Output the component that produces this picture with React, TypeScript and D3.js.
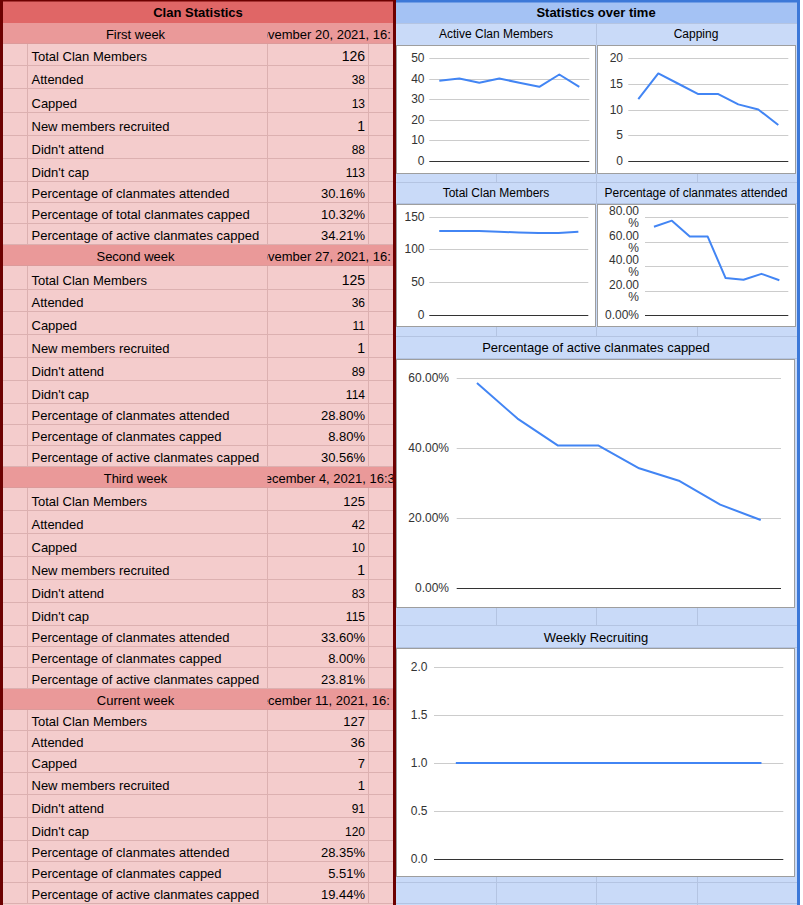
import React from 'react';
import * as d3 from 'd3';

// ---------- Table data ----------
const weekNames = ['First week', 'Second week', 'Third week', 'Current week'];
// Only the part of each date that the narrow cell shows (it is clipped on both sides)
const weekDates = [
  'November 20, 2021, 16:',
  'November 27, 2021, 16:',
  'December 4, 2021, 16:3',
  'December 11, 2021, 16:',
];
const statLabelsFirstWeek = [
  'Total Clan Members', 'Attended', 'Capped', 'New members recruited', "Didn't attend", "Didn't cap",
  'Percentage of clanmates attended', 'Percentage of total clanmates capped', 'Percentage of active clanmates capped',
];
const statLabels = [
  'Total Clan Members', 'Attended', 'Capped', 'New members recruited', "Didn't attend", "Didn't cap",
  'Percentage of clanmates attended', 'Percentage of clanmates capped', 'Percentage of active clanmates capped',
];
const totalMembersByWeek = [126, 125, 125, 127];
const attendedByWeek = [38, 36, 42, 36];
const cappedByWeek = [13, 11, 10, 7];
const recruitedByWeek = [1, 1, 1, 1];
const didntAttendByWeek = [88, 89, 83, 91];
const didntCapByWeek = [113, 114, 115, 120];
const pctAttendedByWeek = ['30.16%', '28.80%', '33.60%', '28.35%'];
const pctCappedByWeek = ['10.32%', '8.80%', '8.00%', '5.51%'];
const pctActiveCappedByWeek = ['34.21%', '30.56%', '23.81%', '19.44%'];

// ---------- Chart data (8 weeks) ----------
const chartWeeks = ['Oct 23', 'Oct 30', 'Nov 6', 'Nov 13', 'Nov 20', 'Nov 27', 'Dec 4', 'Dec 11'];
const activeMembersSeries = [39, 40, 38, 40, 38, 36, 42, 36];
const cappingSeries = [12, 17, 15, 13, 13, 11, 10, 7];
const totalMembersSeries = [128, 128, 128, 127, 126, 125, 125, 127];
const pctAttendedSeries = [72, 77, 64, 64, 30.16, 28.8, 33.6, 28.35];
const pctActiveCappedSeries = [58.6, 48.4, 40.7, 40.7, 34.21, 30.56, 23.81, 19.44];
const weeklyRecruitingSeries = [1, 1, 1, 1, 1, 1, 1, 1];

const activeTicks = [0, 10, 20, 30, 40, 50];
const cappingTicks = [0, 5, 10, 15, 20];
const totalTicks = [0, 50, 100, 150];
const pctAttendedTicks = [0, 20, 40, 60, 80];
const pctActiveTicks = [0, 20, 40, 60];
const recruitTicks = [0, 0.5, 1, 1.5, 2];

// ---------- Layout ----------
const FONT = 'Arial, "Liberation Sans", sans-serif';
const blockStarts = [23, 245, 467, 689];
const blockRowHeights = [
  [21, 22, 23, 24, 23, 23, 23, 21, 21, 21],
  [21, 24, 22, 23, 23, 23, 23, 21, 21, 21],
  [21, 23, 23, 23, 23, 23, 23, 21, 21, 21],
  [21, 21, 21, 21, 22, 23, 23, 21, 21, 21],
];
const dateStartX = [251.4, 251.4, 255.3, 251.4];
const valueFontSizes = [
  [14, 12, 12, 14, 12, 12, 13, 13, 13],
  [14, 12, 12, 14, 12, 12, 13, 13, 13],
  [13, 12, 12, 14, 12, 12, 13, 13, 13],
  [13, 13, 13, 13, 12, 12, 13, 13, 13],
];
const PINK_LINE = '#dcb0b0';
const BLUE_LINE = '#b4c4e2';

type ChartProps = {
  data: number[];
  x0: number; x1: number; yZero: number; yMax: number; max: number;
  ticks: number[]; fmt: (v: number) => string; labelX: number; twoLine?: boolean;
};

function LineChart({ data, x0, x1, yZero, yMax, max, ticks, fmt, labelX, twoLine }: ChartProps) {
  const x = d3.scaleBand<string>().domain(chartWeeks).range([x0, x1]);
  const y = d3.scaleLinear().domain([0, max]).range([yZero, yMax]);
  const line = d3.line<number>()
    .x((_, i) => (x(chartWeeks[i]) as number) + x.bandwidth() / 2)
    .y((d) => y(d));
  return (
    <g fontFamily={FONT} fontSize={12} fill="#333">
      {ticks.map((t) => (
        <line key={'g' + t} x1={x0} x2={x1} y1={Math.round(y(t)) + 0.5} y2={Math.round(y(t)) + 0.5}
          stroke={t === 0 ? '#333' : '#ccc'} strokeWidth={1} />
      ))}
      {ticks.map((t) => {
        const label = fmt(t);
        if (twoLine && t !== 0) {
          const num = label.replace('%', '');
          return (
            <text key={'l' + t} x={labelX} textAnchor="end" dominantBaseline="central">
              <tspan x={labelX} y={y(t) - 6}>{num}</tspan>
              <tspan x={labelX} y={y(t) + 6}>%</tspan>
            </text>
          );
        }
        return (
          <text key={'l' + t} x={labelX} y={y(t)} textAnchor="end" dominantBaseline="central">{label}</text>
        );
      })}
      <path d={line(data) as string} fill="none" stroke="#4285f4" strokeWidth={2} strokeLinejoin="round" />
    </g>
  );
}

function LeftTable() {
  const rows: React.ReactNode[] = [];
  weekNames.forEach((wk, b) => {
    const heights = blockRowHeights[b];
    let yy = blockStarts[b];
    const labels = b === 0 ? statLabelsFirstWeek : statLabels;
    const values: (number | string)[][] = [
      totalMembersByWeek, attendedByWeek, cappedByWeek, recruitedByWeek, didntAttendByWeek,
      didntCapByWeek, pctAttendedByWeek, pctCappedByWeek, pctActiveCappedByWeek,
    ];
    const wh = heights[0];
    rows.push(
      <g key={'w' + b}>
        <rect x={3} y={yy} width={390} height={wh} fill="#ea9999" />
        <line x1={3} x2={393} y1={yy + wh - 0.5} y2={yy + wh - 0.5} stroke="#dc9a9a" />
        <text x={135.5} y={yy + wh - 5.5} textAnchor="middle" fontSize={13} fill="#000">{wk}</text>
        <text x={dateStartX[b]} y={yy + wh - 5.5} fontSize={13} fill="#000" clipPath="url(#dateClip)">{weekDates[b]}</text>
      </g>
    );
    yy += wh;
    labels.forEach((lab, r) => {
      const h = heights[r + 1];
      const v = values[r][b];
      rows.push(
        <g key={'r' + b + '-' + r}>
          <rect x={3} y={yy} width={390} height={h} fill="#f4cccc" />
          <line x1={3} x2={393} y1={yy + h - 0.5} y2={yy + h - 0.5} stroke={PINK_LINE} />
          <line x1={27.5} x2={27.5} y1={yy} y2={yy + h} stroke={PINK_LINE} />
          <line x1={267.5} x2={267.5} y1={yy} y2={yy + h} stroke={PINK_LINE} />
          <line x1={368.5} x2={368.5} y1={yy} y2={yy + h} stroke={PINK_LINE} />
          <text x={31.5} y={yy + h - 5} fontSize={13} fill="#000">{lab}</text>
          <text x={365} y={yy + h - 5} fontSize={valueFontSizes[b][r]} textAnchor="end" fill="#000">{String(v)}</text>
        </g>
      );
      yy += h;
    });
  });
  return (
    <g fontFamily={FONT}>
      <rect x={0} y={0} width={396} height={905} fill="#f4cccc" />
      <rect x={0} y={0} width={396} height={23} fill="#e06666" />
      <text x={198} y={17} textAnchor="middle" fontSize={13} fontWeight="bold" fill="#000">Clan Statistics</text>
      {rows}
      <rect x={0} y={0} width={3} height={905} fill="#6d0000" />
      <rect x={393} y={0} width={3} height={905} fill="#6d0000" />
      <rect x={0} y={0} width={396} height={1.5} fill="#6d0000" />
    </g>
  );
}

function RightPanel() {
  const cols = [496.5, 596.5, 697.5];
  const strip = (y1: number, y2: number, key: string) => (
    <g key={key}>
      {cols.map((c) => <line key={c} x1={c} x2={c} y1={y1} y2={y2} stroke={BLUE_LINE} />)}
    </g>
  );
  const hline = (yv: number) => <line key={'h' + yv} x1={396} x2={797} y1={yv + 0.5} y2={yv + 0.5} stroke={BLUE_LINE} />;
  const box = (x: number, y: number, w: number, h: number, key: string) => (
    <rect key={key} x={x + 0.5} y={y + 0.5} width={w - 1} height={h - 1} fill="#fff" stroke="#9e9e9e" />
  );
  return (
    <g fontFamily={FONT}>
      <rect x={396} y={0} width={401} height={905} fill="#c9daf8" />
      <rect x={396} y={0} width={401} height={23} fill="#a4c2f4" />
      {[23, 182, 203, 336, 358, 625, 647, 882, 903].map(hline)}
      <line x1={596.5} x2={596.5} y1={23} y2={45} stroke={BLUE_LINE} />
      <line x1={596.5} x2={596.5} y1={182} y2={204} stroke={BLUE_LINE} />
      {strip(174, 182, 's1')}
      {strip(327, 336, 's2')}
      {strip(608, 626, 's3')}
      {strip(877, 905, 's4')}
      <text x={596} y={17} textAnchor="middle" fontSize={13} fontWeight="bold" fill="#000">Statistics over time</text>
      <text x={496} y={38} textAnchor="middle" fontSize={12} fill="#000">Active Clan Members</text>
      <text x={696} y={38} textAnchor="middle" fontSize={12} fill="#000">Capping</text>
      <text x={496} y={197} textAnchor="middle" fontSize={12} fill="#000">Total Clan Members</text>
      <text x={696} y={197} textAnchor="middle" fontSize={12} fill="#000">Percentage of clanmates attended</text>
      <text x={596} y={352} textAnchor="middle" fontSize={13} fill="#000">Percentage of active clanmates capped</text>
      <text x={596} y={642} textAnchor="middle" fontSize={13} fill="#000">Weekly Recruiting</text>

      {box(396, 45, 200, 129, 'b1')}
      {box(597, 45, 199, 129, 'b2')}
      {box(396, 204, 200, 123, 'b3')}
      {box(597, 204, 199, 123, 'b4')}
      {box(396, 359, 399, 249, 'b5')}
      {box(396, 648, 399, 229, 'b6')}

      <LineChart data={activeMembersSeries} x0={429.3} x1={589.3} yZero={161} yMax={58} max={50}
        ticks={activeTicks} fmt={(v) => String(v)} labelX={424.5} />
      <LineChart data={cappingSeries} x0={628.3} x1={788.3} yZero={161} yMax={58} max={20}
        ticks={cappingTicks} fmt={(v) => String(v)} labelX={623} />
      <LineChart data={totalMembersSeries} x0={429.3} x1={588.3} yZero={315} yMax={216.7} max={150}
        ticks={totalTicks} fmt={(v) => String(v)} labelX={424.5} />
      <LineChart data={pctAttendedSeries} x0={645} x1={788.3} yZero={315} yMax={217} max={80}
        ticks={pctAttendedTicks} fmt={(v) => v.toFixed(2) + '%'} labelX={639} twoLine />
      <LineChart data={pctActiveCappedSeries} x0={456.7} x1={781} yZero={588} yMax={378} max={60}
        ticks={pctActiveTicks} fmt={(v) => v.toFixed(2) + '%'} labelX={449} />
      <LineChart data={weeklyRecruitingSeries} x0={434} x1={783.3} yZero={859} yMax={667} max={2}
        ticks={recruitTicks} fmt={(v) => v.toFixed(1)} labelX={427.5} />

      <rect x={797} y={0} width={3} height={905} fill="#3c78d8" />
      <rect x={396} y={0} width={404} height={2.5} fill="#3c78d8" />
    </g>
  );
}

export default function App() {
  return (
    <svg width={803} height={905} viewBox="0 0 803 905"
      style={{ position: 'absolute', left: 0, top: 0, display: 'block', background: '#fff' }}>
      <defs>
        <clipPath id="dateClip">
          <rect x={267.5} y={0} width={125.5} height={905} />
        </clipPath>
      </defs>
      <LeftTable />
      <RightPanel />
    </svg>
  );
}
